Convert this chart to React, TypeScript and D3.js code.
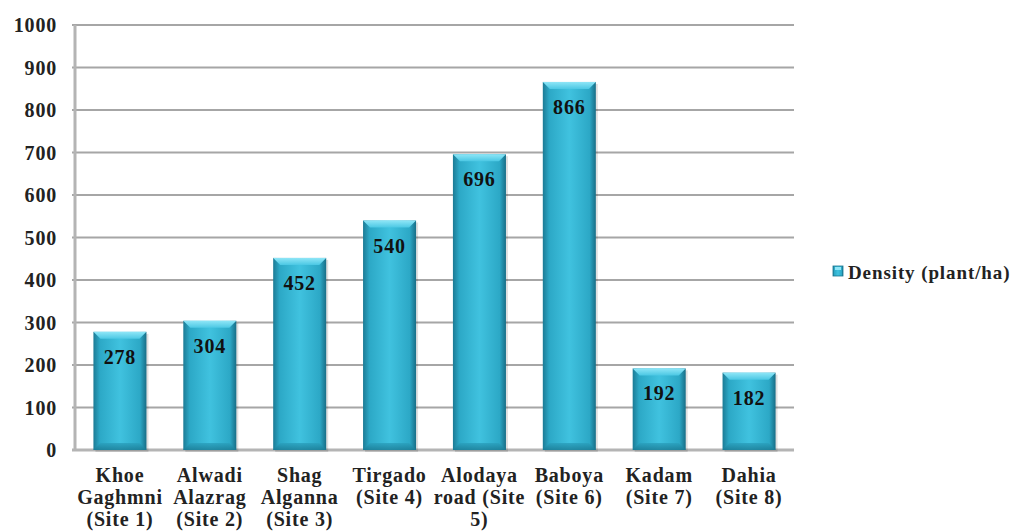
import React from "react";
import * as d3 from "d3";

const categories: string[][] = [
  ["Khoe", "Gaghmni", "(Site 1)"],
  ["Alwadi", "Alazrag", "(Site 2)"],
  ["Shag", "Alganna", "(Site 3)"],
  ["Tirgado", "(Site 4)"],
  ["Alodaya", "road (Site", "5)"],
  ["Baboya", "(Site 6)"],
  ["Kadam", "(Site 7)"],
  ["Dahia", "(Site 8)"],
];
const densityValues: number[] = [278, 304, 452, 540, 696, 866, 192, 182];
const yTicks: number[] = [0, 100, 200, 300, 400, 500, 600, 700, 800, 900, 1000];
const seriesName = "Density (plant/ha)";

const W = 1019;
const H = 532;
const margin = { left: 75, right: 225, top: 25, bottom: 82 };
const FONT = "Liberation Serif, DejaVu Serif, serif";

export default function App() {
  const x = d3
    .scaleBand<number>()
    .domain(d3.range(categories.length))
    .range([margin.left, W - margin.right])
    .paddingInner(0.41)
    .paddingOuter(0.205);
  const y = d3.scaleLinear().domain([0, 1000]).range([H - margin.bottom, margin.top]);
  const bw = x.bandwidth();
  const bev = 7;
  const ts = { fontFamily: FONT };

  return (
    <svg
      width={W}
      height={H}
      style={{ position: "absolute", left: 0, top: 0, background: "#ffffff" }}
    >
      <defs>
        <linearGradient id="barH" x1="0" x2="1" y1="0" y2="0">
          <stop offset="0" stopColor="#1c7b95" />
          <stop offset="0.12" stopColor="#2ca8c6" />
          <stop offset="0.5" stopColor="#40c2df" />
          <stop offset="0.88" stopColor="#2ca8c6" />
          <stop offset="1" stopColor="#186e87" />
        </linearGradient>
        <linearGradient id="barTop" x1="0" x2="0" y1="0" y2="1">
          <stop offset="0" stopColor="#8fe6f7" />
          <stop offset="1" stopColor="#4cc8e4" />
        </linearGradient>
        <linearGradient id="barBot" x1="0" x2="0" y1="0" y2="1">
          <stop offset="0" stopColor="#2aa0bd" />
          <stop offset="1" stopColor="#1a7a93" />
        </linearGradient>
      </defs>

      {yTicks.map((t) => (
        <line
          key={"g" + t}
          x1={margin.left - 3}
          x2={W - margin.right}
          y1={y(t)}
          y2={y(t)}
          stroke="#a6a6a6"
          strokeWidth={2}
        />
      ))}
      <line x1={margin.left} x2={margin.left} y1={y(1000)} y2={y(0)} stroke="#b4b4b4" strokeWidth={3} />
      <line x1={margin.left - 3} x2={W - margin.right} y1={y(0)} y2={y(0)} stroke="#b4b4b4" strokeWidth={3} />

      {yTicks.map((t) => (
        <text
          key={"t" + t}
          x={57}
          y={y(t)}
          dy="0.35em"
          textAnchor="end"
          fontSize={20}
          fontWeight="bold"
          letterSpacing={0.8}
          fill="#222"
          style={ts}
        >
          {t}
        </text>
      ))}

      {densityValues.map((v, i) => {
        const x0 = x(i)!;
        const y0 = y(v);
        const y1 = y(0);
        return (
          <g key={"b" + i}>
            <rect x={x0 + 2} y={y0 + 2} width={bw} height={y1 - y0} fill="#000" opacity={0.12} />
            <rect x={x0} y={y0} width={bw} height={y1 - y0} fill="url(#barH)" />
            <polygon
              points={`${x0},${y0} ${x0 + bw},${y0} ${x0 + bw - bev},${y0 + bev} ${x0 + bev},${y0 + bev}`}
              fill="url(#barTop)"
            />
            <polygon
              points={`${x0},${y1} ${x0 + bw},${y1} ${x0 + bw - bev},${y1 - bev} ${x0 + bev},${y1 - bev}`}
              fill="url(#barBot)"
              opacity={0.8}
            />
            <text
              x={x0 + bw / 2}
              y={y0 + 25}
              dy="0.35em"
              textAnchor="middle"
              fontSize={20}
              fontWeight="bold"
              letterSpacing={0.8}
              fill="#111"
              style={ts}
            >
              {v}
            </text>
          </g>
        );
      })}

      {categories.map((lines, i) => (
        <text
          key={"c" + i}
          x={x(i)! + bw / 2}
          y={475}
          textAnchor="middle"
          fontSize={20}
          fontWeight="bold"
          fill="#222"
          letterSpacing={0.8}
          style={ts}
        >
          {lines.map((l, j) => (
            <tspan key={j} x={x(i)! + bw / 2} dy={j === 0 ? "0.35em" : 22}>
              {l}
            </tspan>
          ))}
        </text>
      ))}

      <rect x={833} y={266} width={10} height={10} fill="url(#barH)" stroke="#1a7690" strokeWidth={0.8} />
      <rect x={835} y={267} width={6} height={3} fill="#8fe6f7" />
      <text
        x={848}
        y={272}
        dy="0.35em"
        fontSize={19}
        fontWeight="bold"
        letterSpacing={0.9}
        fill="#222"
        style={ts}
      >
        {seriesName}
      </text>
    </svg>
  );
}
